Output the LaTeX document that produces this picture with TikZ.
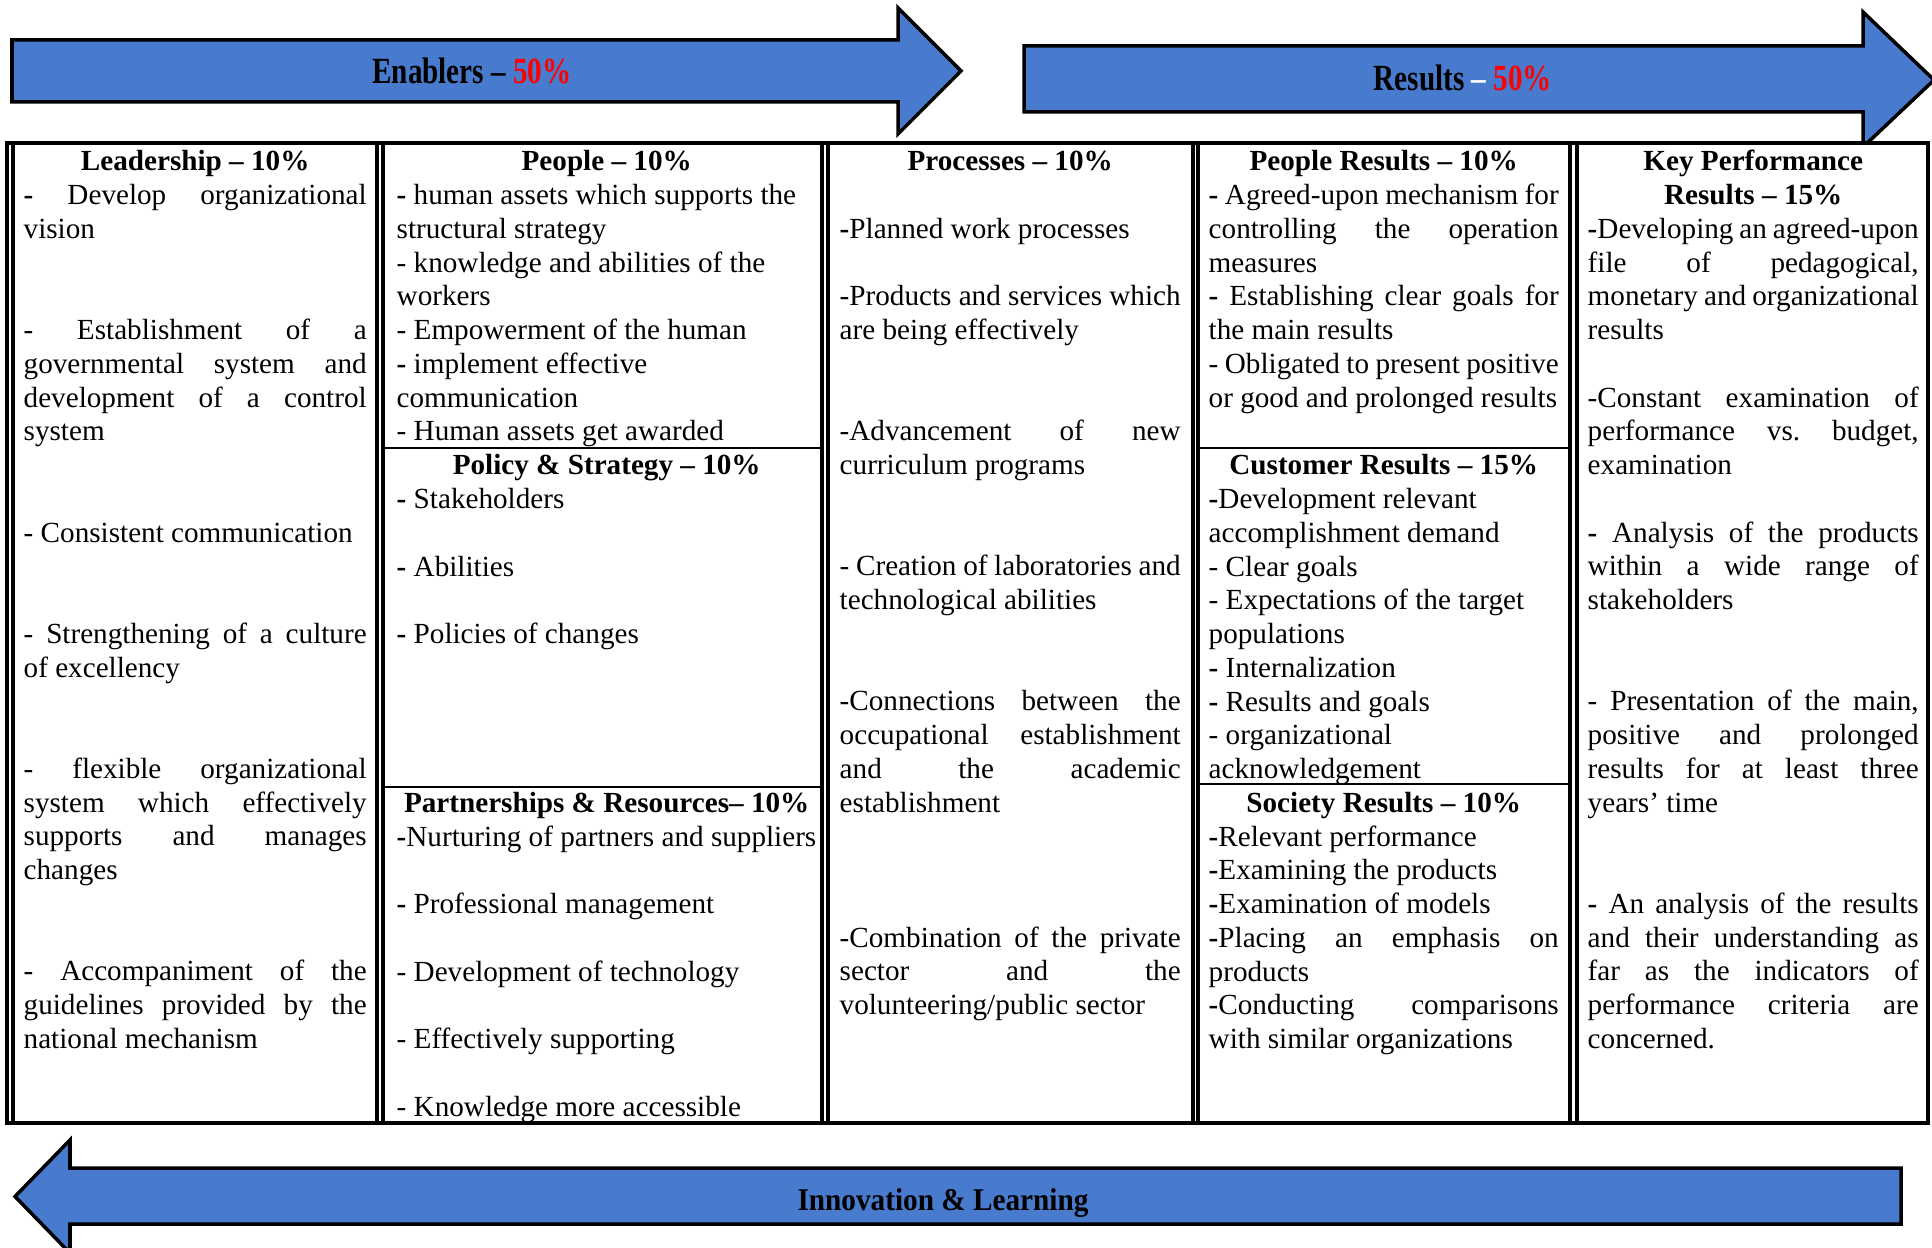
\documentclass[tikz,border=0pt]{standalone}
\usepackage{fontspec}
\setmainfont{Liberation Serif}
\usepackage{xcolor}
\usepackage{graphicx}
\definecolor{arrowblue}{RGB}{72,123,206}
\tolerance=10000
\hyphenpenalty=10000
\exhyphenpenalty=10000
\newcommand\bdash{\textbf{-}}
\newcommand\gap{\mbox{}\\}
\newcommand\colhead[1]{\makebox[\linewidth]{\textbf{#1}}\\}
\newcommand\gy[1]{-1.71-0.3376*#1}

\begin{document}
\begin{tikzpicture}[
    cell/.style={anchor=base west, inner sep=0pt, align=justify, font=\fontsize{8.3}{9.6}\selectfont},
    arr/.style={draw=black, line width=1pt, fill=arrowblue, line join=miter},
    lbl/.style={inner sep=0pt, font=\bfseries\fontsize{10.5}{12}\selectfont},
    tab/.style={line width=0.9pt},
    sep/.style={line width=0.6pt}]
    \useasboundingbox (0,0) rectangle (19.32,-12.48);

    % arrows
    \draw[arr] (0.12,-0.40) -- (8.98,-0.40) -- (8.98,-0.08) -- (9.61,-0.71) -- (8.98,-1.34) -- (8.98,-1.02) -- (0.12,-1.02) -- cycle;
    \draw[arr] (10.24,-0.46) -- (18.63,-0.46) -- (18.63,-0.12) -- (19.34,-0.80) -- (18.63,-1.47) -- (18.63,-1.12) -- (10.24,-1.12) -- cycle;
    \draw[arr] (19.01,-11.68) -- (0.70,-11.68) -- (0.70,-11.40) -- (0.15,-11.965) -- (0.70,-12.53) -- (0.70,-12.24) -- (19.01,-12.24) -- cycle;
    \node[lbl] (en) at (4.72,-0.71) {\scalebox{0.79}[1]{Enablers – \textcolor{red}{50\%}}};
    \node[lbl] (re) at (14.63,-0.78) {\scalebox{0.79}[1]{Results \textcolor{white}{–} \textcolor{red}{50\%}}};
    \node[lbl, anchor=base, font=\bfseries\fontsize{9}{11}\selectfont] (il) at (9.43,-12.10) {\scalebox{0.925}[1]{Innovation \& Learning}};

    % table
    \draw[tab, fill=white] (0.07,-1.43) rectangle (19.28,-11.23);
    \foreach \x in {0.13,3.77,3.83,8.22,8.28,11.93,11.98,15.70,15.77}
        \draw[tab] (\x,-1.43) -- (\x,-11.23);
    \draw[sep] (3.83,-4.48) -- (8.22,-4.48);
    \draw[sep] (3.83,-7.87) -- (8.22,-7.87);
    \draw[sep] (11.98,-4.48) -- (15.70,-4.48);
    \draw[sep] (11.98,-7.84) -- (15.70,-7.84);

    % column 1
    \node[cell, text width=3.43cm] (lead) at (0.23,{\gy{0}}) {\colhead{Leadership – 10\%}
        \bdash{} Develop organizational\linebreak vision\\ \gap\gap
        - Establishment of a\linebreak governmental system and\linebreak development of a control\linebreak system\\ \gap\gap
        - Consistent communication\\ \gap\gap
        - Strengthening of a culture\linebreak of excellency\\ \gap\gap
        - flexible organizational\linebreak system which effectively\linebreak supports and manages\linebreak changes\\ \gap\gap
        - Accompaniment of the\linebreak guidelines provided by the\linebreak national mechanism};

    % column 2
    \node[cell, text width=4.20cm] (peop) at (3.96,{\gy{0}}) {\colhead{People – 10\%}
        \bdash{} human assets which supports the\\ structural strategy\\
        - knowledge and abilities of the\\ workers\\
        - Empowerment of the human\\
        \bdash{} implement effective\\ communication\\
        - Human assets get awarded};
    \node[cell, text width=4.20cm] (pol) at (3.96,{\gy{9}}) {\colhead{Policy \& Strategy – 10\%}
        \bdash{} Stakeholders\\ \gap
        \bdash{} Abilities\\ \gap
        \bdash{} Policies of changes};
    \node[cell, text width=4.20cm] (part) at (3.96,{\gy{19}}) {\colhead{Partnerships \& Resources– 10\%}
        \bdash{}Nurturing of partners and suppliers\\ \gap
        \bdash{} Professional management\\ \gap
        - Development of technology\\ \gap
        - Effectively supporting\\ \gap
        - Knowledge more accessible};

    % column 3
    \node[cell, text width=3.41cm] (proc) at (8.39,{\gy{0}}) {\colhead{Processes – 10\%}
        \gap
        \bdash{}Planned work processes\\ \gap
        -Products and services which\linebreak are being effectively\\ \gap\gap
        -Advancement of new\linebreak curriculum programs\\ \gap\gap
        - Creation of laboratories and\linebreak technological abilities\\ \gap\gap
        -Connections between the\linebreak occupational establishment\linebreak and the academic\linebreak establishment\\ \gap\gap\gap
        -Combination of the private\linebreak sector and the\linebreak volunteering/public sector};

    % column 4
    \node[cell, text width=3.50cm] (pres) at (12.08,{\gy{0}}) {\colhead{People Results – 10\%}
        \bdash{} Agreed-upon mechanism for\linebreak controlling the operation\linebreak measures\\
        \bdash{} Establishing clear goals for\linebreak the main results\\
        - Obligated to present positive\linebreak or good and prolonged results};
    \node[cell, text width=3.50cm] (cust) at (12.08,{\gy{9}}) {\colhead{Customer Results – 15\%}
        \bdash{}Development relevant\\ accomplishment demand\\
        - Clear goals\\
        - Expectations of the target\\ populations\\
        \bdash{} Internalization\\
        \bdash{} Results and goals\\
        - organizational\\ acknowledgement};
    \node[cell, text width=3.50cm] (soc) at (12.08,{\gy{19}}) {\colhead{Society Results – 10\%}
        \bdash{}Relevant performance\\
        \bdash{}Examining the products\\
        \bdash{}Examination of models\\
        \bdash{}Placing an emphasis on\linebreak products\\
        \bdash{}Conducting comparisons\linebreak with similar organizations};

    % column 5
    \node[cell, text width=3.31cm] (kpr) at (15.87,{\gy{0}}) {\colhead{Key Performance}
        \colhead{Results – 15\%}
        \bdash{}Developing an agreed-upon\linebreak file of pedagogical,\linebreak monetary and organizational\linebreak results\\ \gap
        -Constant examination of\linebreak performance vs.\ budget,\linebreak examination\\ \gap
        \bdash{} Analysis of the products\linebreak within a wide range of\linebreak stakeholders\\ \gap\gap
        - Presentation of the main,\linebreak positive and prolonged\linebreak results for at least three\linebreak years' time\\ \gap\gap
        \bdash{} An analysis of the results\linebreak and their understanding as\linebreak far as the indicators of\linebreak performance criteria are\linebreak concerned.};
\end{tikzpicture}
\end{document}
